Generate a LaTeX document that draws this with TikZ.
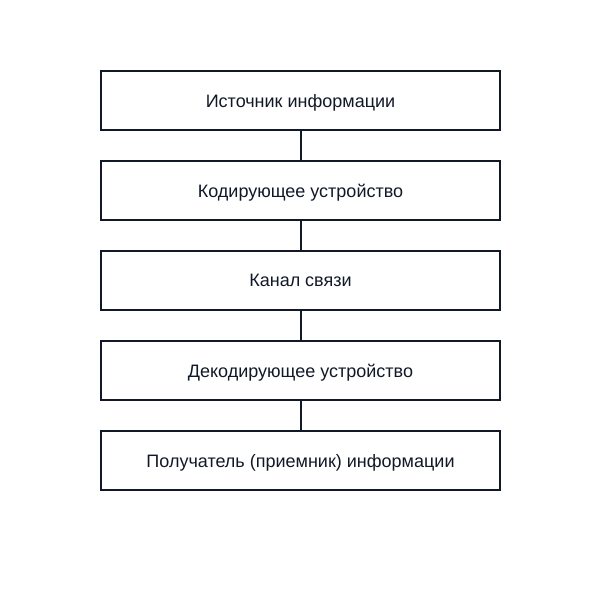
\documentclass[tikz,border=0pt]{standalone}
\usepackage{fontspec}
\setmainfont{Liberation Sans}
\usetikzlibrary{positioning}
\definecolor{ink}{HTML}{111827}
\tikzset{stage/.style={draw=ink, line width=1.5pt, minimum width=299pt,
    minimum height=44pt, inner sep=0pt, text depth=-0.6pt, text=ink,
    font=\fontsize{13.5}{15}\selectfont},
  link/.style={draw=ink, line width=1.5pt}}

\begin{document}
\begin{tikzpicture}[x=0.75pt, y=-0.75pt]
      \useasboundingbox (0,0) rectangle (600,600);
      \node[stage] (source) at (300.5,100.5) {Источник информации};
      \node[stage, below=22pt of source] (coder) {Кодирующее устройство};
      \node[stage, below=22pt of coder] (channel) {Канал связи};
      \node[stage, below=22pt of channel] (decoder) {Декодирующее устройство};
      \node[stage, below=22pt of decoder] (sink) {Получатель (приемник) информации};

      \draw[link] (source) -- (coder); \draw[link] (coder) -- (channel);
      \draw[link] (channel) -- (decoder); \draw[link] (decoder) -- (sink);
    \end{tikzpicture}
\end{document}
